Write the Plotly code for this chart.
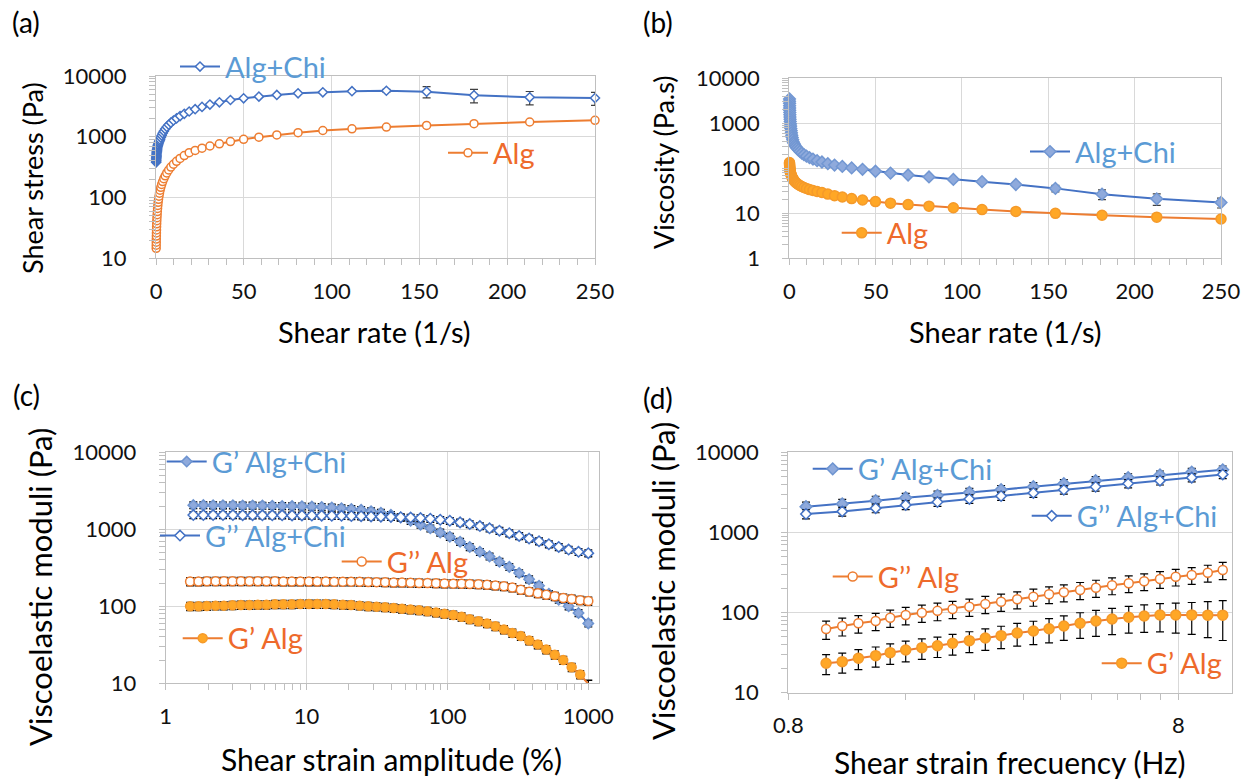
import plotly.graph_objects as go

W, H = 1251, 782
FONT = "Lato"

# ---------------- data ----------------
# (a)/(b) flow curves
shear_rate = [0.109, 0.128, 0.150, 0.177, 0.208, 0.244, 0.287, 0.337, 0.396, 0.465,
              0.546, 0.642, 0.754, 0.886, 1.04, 1.22, 1.44, 1.69, 1.98, 2.33,
              2.74, 3.22, 3.78, 4.44, 5.22, 6.13, 7.21, 8.47, 9.95, 11.7,
              13.7, 16.1, 18.9, 22.3, 26.2, 30.7, 36.1, 42.4, 49.9, 58.6,
              68.8, 80.9, 95.0, 111.6, 131.2, 154.1, 181.1, 212.8, 250.0]
stress_alg = [14.6, 16.4, 18.4, 20.7, 23.2, 26.1, 29.3, 32.9, 36.9, 41.5,
              46.6, 52.3, 58.8, 66.0, 74.1, 83.3, 93.5, 105, 118, 132,
              147, 164, 183, 204, 228, 254, 284, 317, 353, 394,
              440, 491, 548, 596, 648, 705, 766, 834, 907, 986,
              1072, 1166, 1268, 1352, 1442, 1538, 1641, 1750, 1867]
stress_algchi = [380, 398, 416, 435, 455, 476, 498, 521, 545, 570,
                 597, 624, 653, 683, 715, 748, 782, 818, 856, 896,
                 971, 1053, 1141, 1237, 1341, 1454, 1576, 1708, 1852, 2007,
                 2190, 2389, 2606, 2843, 3102, 3384, 3692, 4028, 4296, 4582,
                 4887, 5190, 5390, 5620, 5720, 5520, 4820, 4460, 4340]
stress_algchi_err = [0, 0, 0, 0, 0, 0, 0, 0, 0, 0,
                     0, 0, 0, 0, 0, 0, 0, 0, 0, 0,
                     0, 0, 0, 0, 0, 0, 0, 0, 0, 0,
                     0, 0, 0, 0, 0, 0, 0, 0, 80, 90,
                     100, 150, 200, 250, 300, 1150, 1200, 1100, 1050]
visc_alg = [134, 128, 123, 117, 112, 107, 102, 97.6, 93.2, 89.2,
            85.3, 81.5, 78.0, 74.5, 71.3, 68.3, 64.9, 62.1, 59.6, 56.7,
            53.6, 50.9, 48.4, 45.9, 43.7, 41.4, 39.4, 37.4, 35.5, 33.7,
            32.1, 30.5, 29.0, 26.7, 24.7, 23.0, 21.2, 19.7, 18.2, 16.8,
            15.6, 14.4, 13.3, 12.1, 11.0, 9.98, 9.06, 8.22, 7.47]
visc_algchi = [3486, 3109, 2773, 2458, 2188, 1951, 1735, 1546, 1376, 1226,
               1093, 972, 866, 771, 688, 613, 543, 484, 432, 385,
               354, 327, 302, 279, 257, 237, 219, 202, 186, 172,
               160, 148, 138, 127, 118, 110, 102, 95.0, 86.1, 78.2,
               71.0, 64.2, 56.7, 50.4, 43.6, 35.8, 26.6, 21.0, 17.4]
visc_algchi_err = [0, 0, 0, 0, 0, 0, 0, 0, 0, 0,
                   0, 0, 0, 0, 0, 0, 0, 0, 0, 0,
                   0, 0, 0, 0, 0, 0, 0, 0, 0, 0,
                   0, 0, 0, 0, 0, 0, 0, 0, 1.5, 1.5,
                   1.5, 2, 2, 2.5, 3.5, 6, 6.5, 6, 4.3]

# (c) amplitude sweep
strain_alg = [1.49, 1.71, 1.96, 2.26, 2.59, 2.98, 3.42, 3.93, 4.51, 5.19,
              5.96, 6.84, 7.86, 9.03, 10.4, 11.9, 13.7, 15.7, 18.1, 20.7,
              23.8, 27.4, 31.4, 36.1, 41.5, 47.6, 54.7, 62.9, 72.2, 83.0,
              95.3, 110, 126, 144, 166, 191, 219, 252, 289, 332,
              381, 438, 503, 578, 664, 762, 876, 1000]
gp_alg_amp = [100, 100, 101, 102, 102, 103, 104, 104, 105, 105,
              106, 106, 106, 107, 107, 107, 107, 106, 105, 104,
              102, 100, 99, 97, 95, 93, 91, 89, 86, 83,
              80, 77, 73, 68, 64, 60, 55, 50, 45, 41,
              36, 32, 27.5, 23.5, 20, 16.2, 13, 9.8]
gpp_alg_amp = [210, 210, 211, 211, 211, 211, 211, 211, 211, 211,
               211, 210, 210, 210, 210, 210, 210, 209, 209, 209,
               208, 207, 206, 205, 204, 203, 202, 201, 200, 199,
               198, 197, 196, 195, 193, 190, 186, 182, 175, 164,
               155, 148, 141, 135, 128, 124, 120, 117]
strain_algchi = [1.57, 1.85, 2.17, 2.55, 3.00, 3.52, 4.14, 4.86, 5.71, 6.71,
                 7.89, 9.27, 10.9, 12.8, 15.1, 17.7, 20.8, 24.4, 28.7, 33.7,
                 39.7, 46.6, 54.8, 64.4, 75.6, 88.9, 104, 123, 144, 170,
                 199, 234, 275, 323, 380, 447, 525, 617, 725, 852, 1000]
gp_algchi_amp = [2060, 2060, 2055, 2050, 2050, 2040, 2040, 2030, 2020, 2010,
                 2000, 1990, 1970, 1950, 1920, 1880, 1840, 1790, 1720, 1640,
                 1540, 1420, 1290, 1150, 1030, 910, 800, 690, 590, 510,
                 445, 380, 325, 270, 225, 185, 145, 122, 100, 82, 60]
gpp_algchi_amp = [1530, 1530, 1530, 1530, 1530, 1525, 1525, 1520, 1520, 1520,
                  1515, 1515, 1510, 1505, 1500, 1495, 1490, 1480, 1470, 1460,
                  1450, 1435, 1420, 1400, 1370, 1330, 1290, 1230, 1170, 1100,
                  1030, 960, 890, 820, 760, 700, 640, 590, 545, 510, 490]

# (d) frequency sweep
freq_algchi = [0.888, 1.10, 1.34, 1.60, 1.93, 2.33, 2.81, 3.40, 4.07, 4.91, 5.95, 7.18, 8.66, 10.4]
gp_algchi_freq = [2090, 2270, 2490, 2710, 2900, 3150, 3420, 3720, 4060, 4420, 4820, 5220, 5650, 6050]
gp_algchi_freq_err = [300, 320, 340, 360, 380, 400, 430, 460, 500, 540, 580, 620, 660, 700]
gpp_algchi_freq = [1700, 1830, 2010, 2200, 2400, 2620, 2850, 3110, 3400, 3720, 4070, 4430, 4830, 5300]
gpp_algchi_freq_err = [220, 230, 250, 270, 290, 320, 340, 370, 400, 440, 480, 520, 560, 610]
freq_alg = [1.00, 1.10, 1.21, 1.34, 1.46, 1.60, 1.76, 1.93, 2.11, 2.33,
            2.56, 2.81, 3.09, 3.40, 3.73, 4.07, 4.48, 4.92, 5.41, 5.97,
            6.54, 7.18, 7.88, 8.66, 9.52, 10.4]
gp_alg_freq = [23.3, 24.4, 26.9, 29.0, 31.6, 34.1, 36.5, 38.5, 41.4, 44.6,
               48.2, 51.5, 55.6, 58.9, 62.9, 68.0, 73.5, 78.5, 83.0, 87.3,
               90.6, 93.3, 93.3, 93.5, 92.8, 92.8]
gp_alg_freq_err = [6.5, 6.8, 7.5, 8.2, 9, 9.8, 10.5, 11, 12, 13,
                   14.5, 16, 17.5, 19, 21, 23, 26, 28, 30, 32,
                   34, 36, 38, 40, 44, 48]
gpp_alg_freq = [62.4, 68, 73.5, 78.5, 86.3, 93.3, 99.6, 105, 110.8, 118.4,
                127.9, 136.7, 146.5, 157.9, 169, 179, 191.3, 204, 218.8, 231.9,
                245.6, 262.4, 280.4, 294.4, 314.5, 340]
gpp_alg_freq_err = [16, 17, 18, 19, 21, 23, 24, 26, 27, 29,
                    31, 33, 35, 38, 40, 43, 46, 49, 52, 55,
                    58, 62, 66, 70, 75, 82]

# ---------------- style ----------------
BLUE = '#4472C4'
BLUE_FILL = '#8FAADC'
ORANGE = '#ED7D31'
ORANGE_FILL = '#FFA726'
BLUE_TXT = '#5B9BD5'
ORANGE_TXT = '#EE6A2B'
GRID = '#D9D9D9'
AXC = '#BFBFBF'

fig = go.Figure()


def add(x, y, xa, ya, name, leg, lcolor, symbol, fill, outline, size,
        err=None, errpct=None, errcolor='#000000', lw=2):
    ey = None
    if err is not None:
        ey = dict(type='data', array=err, visible=True, color=errcolor, thickness=1.2, width=4)
    elif errpct is not None:
        ey = dict(type='percent', value=errpct, visible=True, color=errcolor, thickness=1.4, width=4)
    fig.add_trace(go.Scatter(
        x=x, y=y, xaxis=xa, yaxis=ya, name=name, legend=leg, showlegend=True,
        mode='lines+markers', cliponaxis=False,
        line=dict(color=lcolor, width=lw),
        marker=dict(symbol=symbol, size=size, color=fill, line=dict(color=outline, width=1.5)),
        error_y=ey))


# (a)
add(shear_rate, stress_algchi, 'x', 'y', 'Alg+Chi', 'legend', BLUE, 'diamond', 'white', BLUE, 7,
    err=stress_algchi_err, errcolor='#404040')
add(shear_rate, stress_alg, 'x', 'y', 'Alg', 'legend2', ORANGE, 'circle', 'white', ORANGE, 8)
# (b)
add(shear_rate, visc_algchi, 'x2', 'y2', 'Alg+Chi', 'legend3', BLUE, 'diamond', BLUE_FILL, '#7297D2', 9,
    err=visc_algchi_err, errcolor='#404040')
add(shear_rate, visc_alg, 'x2', 'y2', 'Alg', 'legend4', ORANGE, 'circle', ORANGE_FILL, '#F59A2A', 10)
# (c)
add(strain_algchi, gp_algchi_amp, 'x3', 'y3', 'G’ Alg+Chi', 'legend5', BLUE, 'diamond', BLUE_FILL, '#6E94D0', 8,
    errpct=10)
add(strain_algchi, gpp_algchi_amp, 'x3', 'y3', 'G’’ Alg+Chi', 'legend6', BLUE, 'diamond', 'white', BLUE, 8,
    errpct=10)
add(strain_alg, gpp_alg_amp, 'x3', 'y3', 'G’’ Alg', 'legend7', ORANGE, 'circle', 'white', ORANGE, 9,
    errpct=12)
add(strain_alg, gp_alg_amp, 'x3', 'y3', 'G’ Alg', 'legend8', ORANGE, 'circle', ORANGE_FILL, '#F59A2A', 9,
    errpct=12)
# (d)
add(freq_algchi, gp_algchi_freq, 'x4', 'y4', 'G’ Alg+Chi', 'legend9', BLUE, 'diamond', BLUE_FILL, '#6E94D0', 9,
    err=gp_algchi_freq_err)
add(freq_algchi, gpp_algchi_freq, 'x4', 'y4', 'G’’ Alg+Chi', 'legend10', BLUE, 'diamond', 'white', BLUE, 8,
    err=gpp_algchi_freq_err)
add(freq_alg, gpp_alg_freq, 'x4', 'y4', 'G’’ Alg', 'legend11', ORANGE, 'circle', 'white', ORANGE, 9,
    err=gpp_alg_freq_err)
add(freq_alg, gp_alg_freq, 'x4', 'y4', 'G’ Alg', 'legend12', ORANGE, 'circle', ORANGE_FILL, '#F59A2A', 10,
    err=gp_alg_freq_err)

TICKFONT = dict(family=FONT, size=22, color='#111111')


def axis(domain, anchor, **kw):
    d = dict(domain=domain, anchor=anchor, showline=True, linecolor=AXC, linewidth=1, mirror=True,
             showgrid=True, gridcolor=GRID, gridwidth=1, zeroline=False, automargin=False,
             ticks='outside', ticklen=6, tickcolor=AXC, tickfont=TICKFONT)
    d.update(kw)
    return d


def minor(vals=None, dtick=None):
    m = dict(ticks='outside', ticklen=6, tickcolor=AXC, showgrid=False)
    if vals is not None:
        m.update(tickmode='array', tickvals=vals)
    else:
        m.update(dtick=dtick, tick0=0)
    return m


log_minor_1_4 = [20, 30, 40, 50, 60, 70, 80, 90, 200, 300, 400, 500, 600, 700, 800, 900,
                 2000, 3000, 4000, 5000, 6000, 7000, 8000, 9000]
log_minor_0_4 = [2, 3, 4, 5, 6, 7, 8, 9] + log_minor_1_4
ytv14 = [10, 100, 1000, 10000]
ytv04 = [1, 10, 100, 1000, 10000]

xa = [156 / W, 595 / W]
ya = [1 - 258.3 / H, 1 - 76 / H]
xb = [789.3 / W, 1221 / W]
yb = [1 - 258.3 / H, 1 - 78.3 / H]
xc = [165.7 / W, 599 / W]
yc = [1 - 683.3 / H, 1 - 452.3 / H]
xd = [788.3 / W, 1231.7 / W]
yd = [1 - 692.7 / H, 1 - 452.3 / H]

XSTAND = 7
YSTAND = 18
fig.update_layout(
    width=W, height=H, margin=dict(l=0, r=0, t=0, b=0, autoexpand=False), autosize=False,
    paper_bgcolor='white', plot_bgcolor='white', showlegend=True,
    xaxis=axis(xa, 'y', type='linear', range=[0, 250], tickvals=[0, 50, 100, 150, 200, 250],
               minor=minor(dtick=10), ticklabelstandoff=XSTAND),
    yaxis=axis(ya, 'x', type='log', range=[1, 4], tickvals=ytv14, ticktext=[str(v) for v in ytv14],
               minor=minor(log_minor_1_4), ticklabelstandoff=YSTAND),
    xaxis2=axis(xb, 'y2', type='linear', range=[0, 250], tickvals=[0, 50, 100, 150, 200, 250],
                minor=minor(dtick=10), ticklabelstandoff=XSTAND),
    yaxis2=axis(yb, 'x2', type='log', range=[0, 4], tickvals=ytv04, ticktext=[str(v) for v in ytv04],
                minor=minor(log_minor_0_4), ticklabelstandoff=YSTAND),
    xaxis3=axis(xc, 'y3', type='log', range=[0, 3.076], tickvals=[1, 10, 100, 1000],
                ticktext=['1', '10', '100', '1000'],
                minor=minor([2, 3, 4, 5, 6, 7, 8, 9, 20, 30, 40, 50, 60, 70, 80, 90,
                             200, 300, 400, 500, 600, 700, 800, 900]), ticklabelstandoff=XSTAND),
    yaxis3=axis(yc, 'x3', type='log', range=[1, 4], tickvals=ytv14, ticktext=[str(v) for v in ytv14],
                minor=minor(log_minor_1_4), ticklabelstandoff=YSTAND),
    xaxis4=axis(xd, 'y4', type='log', range=[-0.09691, 1.0400], tickvals=[0.8, 8], ticktext=['0.8', '8'],
                minor=minor([1.6, 2.4, 3.2, 4.0, 4.8, 5.6, 6.4, 7.2]), ticklabelstandoff=XSTAND),
    yaxis4=axis(yd, 'x4', type='log', range=[1, 4], tickvals=ytv14, ticktext=[str(v) for v in ytv14],
                minor=minor(log_minor_1_4), ticklabelstandoff=YSTAND),
)

# legends, one per series, placed like the in-plot labels of the original
LEGFONT = 29
legend_specs = [
    ('legend', 180, 66.7, BLUE_TXT),
    ('legend2', 448, 153, ORANGE_TXT),
    ('legend3', 1030, 151.7, BLUE_TXT),
    ('legend4', 841.7, 233, ORANGE_TXT),
    ('legend5', 166.7, 461.7, BLUE_TXT),
    ('legend6', 160, 535.7, BLUE_TXT),
    ('legend7', 341.7, 561.7, ORANGE_TXT),
    ('legend8', 182.7, 638.3, ORANGE_TXT),
    ('legend9', 812.7, 469, BLUE_TXT),
    ('legend10', 1031.7, 516, BLUE_TXT),
    ('legend11', 832.7, 576.7, ORANGE_TXT),
    ('legend12', 1101.7, 663.3, ORANGE_TXT),
]
for key, lx, ly, col in legend_specs:
    fig.update_layout({key: dict(x=(lx - 5) / W, y=1 - ly / H, xref='paper', yref='paper',
                                 xanchor='left', yanchor='middle', bgcolor='rgba(0,0,0,0)',
                                 borderwidth=0, itemwidth=40, visible=True,
                                 font=dict(family=FONT, size=LEGFONT, color=col))})

annos = [
    dict(text='(a)', x=26, y=22, angle=0, size=28),
    dict(text='(b)', x=658, y=22, angle=0, size=28),
    dict(text='(c)', x=26, y=395, angle=0, size=28),
    dict(text='(d)', x=658, y=398, angle=0, size=28),
    dict(text='Shear rate (1/s)', x=374, y=331, angle=0, size=29),
    dict(text='Shear rate (1/s)', x=1005, y=331, angle=0, size=29),
    dict(text='Shear strain amplitude (%)', x=391, y=759, angle=0, size=30),
    dict(text='Shear strain frecuency (Hz)', x=1010, y=762, angle=0, size=30),
    dict(text='Shear stress (Pa)', x=32, y=178, angle=-90, size=27),
    dict(text='Viscosity (Pa.s)', x=663, y=162, angle=-90, size=27),
    dict(text='Viscoelastic moduli (Pa)', x=40, y=587, angle=-90, size=31),
    dict(text='Viscoelastic moduli (Pa)', x=663, y=581, angle=-90, size=31),
]
for a in annos:
    fig.add_annotation(text=a['text'], x=a['x'] / W, y=1 - a['y'] / H, xref='paper', yref='paper',
                       xanchor='center', yanchor='middle', showarrow=False, textangle=a['angle'],
                       font=dict(family=FONT, size=a['size'], color='#000000'))

fig.write_html("out.html", config={'displayModeBar': False},
               post_script="document.body.style.margin='0';")
